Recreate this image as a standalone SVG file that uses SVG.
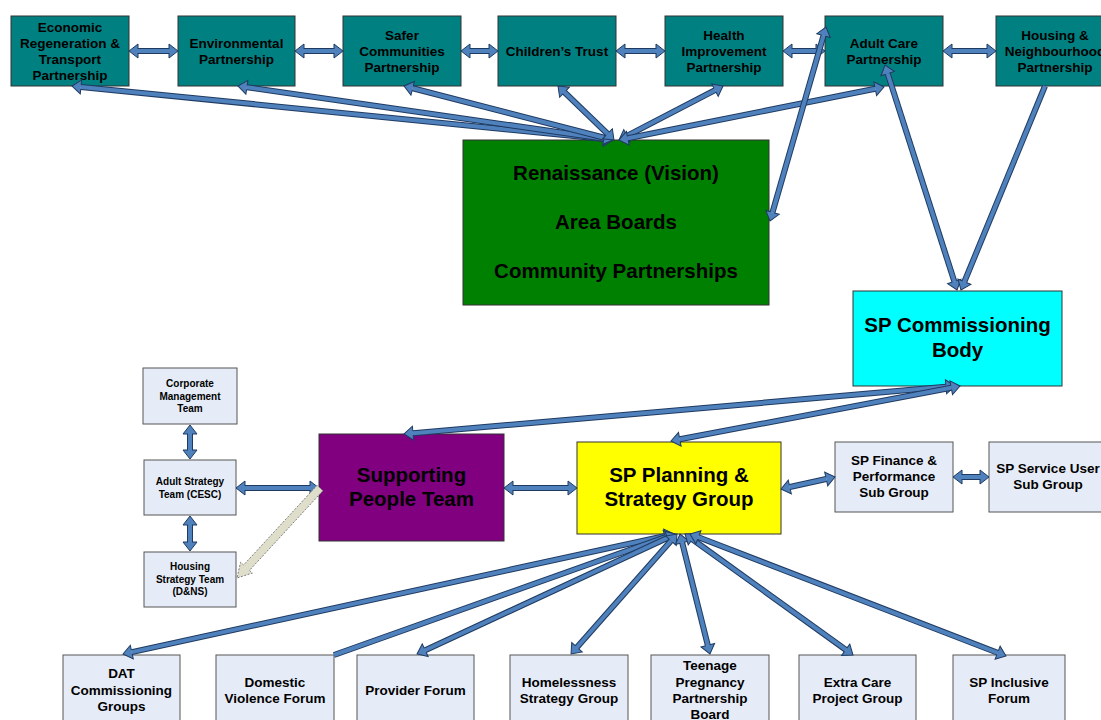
<svg xmlns="http://www.w3.org/2000/svg" width="1101" height="720" viewBox="0 0 1101 720">
<style>
.t{font-family:"Liberation Sans",Arial,sans-serif;font-weight:bold;fill:#000;text-anchor:middle}
.s{font-size:13.5px}
.xs{font-size:10px}
.l{font-size:20.5px}
.box{stroke:#333;stroke-width:1}
.teal{fill:#008080}
.lt{fill:#E6ECF7;stroke:#555;stroke-width:1}
.u{stroke:#1F3A60;stroke-width:6;fill:none}
.o{stroke:#4F81BD;stroke-width:4;fill:none}
.d{marker-start:url(#ah);marker-end:url(#ah)}
.e{marker-end:url(#ah)}
</style>
<defs>
<marker id="ah" viewBox="-1 -8 11 16" refX="0" refY="0" markerWidth="11" markerHeight="16" markerUnits="userSpaceOnUse" orient="auto-start-reverse" overflow="visible">
<path d="M0,-7 L9,0 L0,7 Z" fill="#4F81BD"/>
<path d="M0,-2 L0,-7 L9,0 L0,7 L0,2" fill="none" stroke="#1F3A60" stroke-width="1"/>
</marker>
</defs>
<rect width="1101" height="720" fill="#fff"/>

<g id="n-economic"><rect class="box teal" x="11" y="16" width="118" height="70"/>
<text class="t s" x="70" y="31.7">Economic</text><text class="t s" x="70" y="47.7">Regeneration &amp;</text><text class="t s" x="70" y="63.7">Transport</text><text class="t s" x="70" y="79.7">Partnership</text></g>
<g id="n-environmental"><rect class="box teal" x="178" y="16" width="117" height="70"/>
<text class="t s" x="236.5" y="47.7">Environmental</text><text class="t s" x="236.5" y="63.7">Partnership</text></g>
<g id="n-safer"><rect class="box teal" x="343" y="16" width="118" height="70"/>
<text class="t s" x="402" y="39.7">Safer</text><text class="t s" x="402" y="55.7">Communities</text><text class="t s" x="402" y="71.7">Partnership</text></g>
<g id="n-children"><rect class="box teal" x="498" y="16" width="118" height="70"/>
<text class="t s" x="557" y="55.7">Children’s Trust</text></g>
<g id="n-health"><rect class="box teal" x="665" y="16" width="118" height="70"/>
<text class="t s" x="724" y="39.7">Health</text><text class="t s" x="724" y="55.7">Improvement</text><text class="t s" x="724" y="71.7">Partnership</text></g>
<g id="n-adultcare"><rect class="box teal" x="825" y="16" width="118" height="70"/>
<text class="t s" x="884" y="47.7">Adult Care</text><text class="t s" x="884" y="63.7">Partnership</text></g>
<g id="n-housing"><rect class="box teal" x="996" y="16" width="118" height="70"/>
<text class="t s" x="1055" y="39.7">Housing &amp;</text><text class="t s" x="1055" y="55.7">Neighbourhood</text><text class="t s" x="1055" y="71.7">Partnership</text></g>

<g id="n-renaissance"><rect class="box" fill="#008000" x="463" y="140" width="306" height="165"/>
<text class="t l" x="616" y="180">Renaissance (Vision)</text><text class="t l" x="616" y="229">Area Boards</text><text class="t l" x="616" y="278">Community Partnerships</text></g>

<g id="n-commissioning"><rect class="box" fill="#00FFFF" x="853" y="291" width="209" height="95"/>
<text class="t l" x="957.5" y="332">SP Commissioning</text><text class="t l" x="957.5" y="357">Body</text></g>

<g id="n-corporate"><rect class="lt" x="143" y="368" width="94" height="56"/>
<text class="t xs" x="190" y="387">Corporate</text><text class="t xs" x="190" y="399.5">Management</text><text class="t xs" x="190" y="412">Team</text></g>
<g id="n-adultstrategy"><rect class="lt" x="144" y="460" width="92" height="55"/>
<text class="t xs" x="190" y="485">Adult Strategy</text><text class="t xs" x="190" y="497.5">Team (CESC)</text></g>
<g id="n-housingstrategy"><rect class="lt" x="144" y="552" width="92" height="55"/>
<text class="t xs" x="190" y="570">Housing</text><text class="t xs" x="190" y="582.5">Strategy Team</text><text class="t xs" x="190" y="595">(D&amp;NS)</text></g>

<g id="n-supporting"><rect class="box" fill="#800080" x="319" y="434" width="185" height="107"/>
<text class="t l" x="411.5" y="482">Supporting</text><text class="t l" x="411.5" y="506">People Team</text></g>
<g id="n-planning"><rect class="box" fill="#FFFF00" x="577" y="442" width="204" height="92"/>
<text class="t l" x="679" y="482">SP Planning &amp;</text><text class="t l" x="679" y="506">Strategy Group</text></g>
<g id="n-finance"><rect class="lt" x="835" y="442" width="118" height="70"/>
<text class="t s" x="894" y="465">SP Finance &amp;</text><text class="t s" x="894" y="481">Performance</text><text class="t s" x="894" y="497">Sub Group</text></g>
<g id="n-serviceuser"><rect class="lt" x="989" y="442" width="118" height="70"/>
<text class="t s" x="1048" y="473">SP Service User</text><text class="t s" x="1048" y="489">Sub Group</text></g>

<g id="n-dat"><rect class="lt" x="63" y="655" width="117" height="70"/>
<text class="t s" x="121.5" y="678">DAT</text><text class="t s" x="121.5" y="694.5">Commissioning</text><text class="t s" x="121.5" y="711">Groups</text></g>
<g id="n-domestic"><rect class="lt" x="216" y="655" width="118" height="70"/>
<text class="t s" x="275" y="687">Domestic</text><text class="t s" x="275" y="703">Violence Forum</text></g>
<g id="n-provider"><rect class="lt" x="357" y="655" width="117" height="70"/>
<text class="t s" x="415.5" y="695">Provider Forum</text></g>
<g id="n-homelessness"><rect class="lt" x="510" y="655" width="118" height="70"/>
<text class="t s" x="569" y="687">Homelessness</text><text class="t s" x="569" y="703">Strategy Group</text></g>
<g id="n-teenage"><rect class="lt" x="651" y="655" width="118" height="70"/>
<text class="t s" x="710" y="670">Teenage</text><text class="t s" x="710" y="686.5">Pregnancy</text><text class="t s" x="710" y="703">Partnership</text><text class="t s" x="710" y="719">Board</text></g>
<g id="n-extracare"><rect class="lt" x="799" y="655" width="117" height="70"/>
<text class="t s" x="857.5" y="687">Extra Care</text><text class="t s" x="857.5" y="703">Project Group</text></g>
<g id="n-inclusive"><rect class="lt" x="953" y="655" width="112" height="70"/>
<text class="t s" x="1009" y="687">SP Inclusive</text><text class="t s" x="1009" y="703">Forum</text></g>

<g id="connectors">
<g><line class="u" x1="138" y1="51" x2="169" y2="51"/><line class="o d" x1="138" y1="51" x2="169" y2="51"/></g>
<g><line class="u" x1="304" y1="51" x2="334" y2="51"/><line class="o d" x1="304" y1="51" x2="334" y2="51"/></g>
<g><line class="u" x1="470" y1="51" x2="489" y2="51"/><line class="o d" x1="470" y1="51" x2="489" y2="51"/></g>
<g><line class="u" x1="625" y1="51" x2="656" y2="51"/><line class="o d" x1="625" y1="51" x2="656" y2="51"/></g>
<g><line class="u" x1="792" y1="51" x2="816" y2="51"/><line class="o d" x1="792" y1="51" x2="816" y2="51"/></g>
<g><line class="u" x1="952" y1="51" x2="987" y2="51"/><line class="o d" x1="952" y1="51" x2="987" y2="51"/></g>

<g><line class="u" x1="80.96" y1="86.89" x2="604.04" y2="139.11"/><line class="o d" x1="80.96" y1="86.89" x2="604.04" y2="139.11"/></g>
<g><line class="u" x1="246.9" y1="87.28" x2="604.1" y2="138.72"/><line class="o d" x1="246.9" y1="87.28" x2="604.1" y2="138.72"/></g>
<g><line class="u" x1="412.7" y1="88.25" x2="604.3" y2="137.75"/><line class="o d" x1="412.7" y1="88.25" x2="604.3" y2="137.75"/></g>
<g><line class="u" x1="564.5" y1="92.25" x2="607.5" y2="133.75"/><line class="o d" x1="564.5" y1="92.25" x2="607.5" y2="133.75"/></g>
<g><line class="u" x1="715" y1="90.15" x2="627" y2="135.85"/><line class="o d" x1="715" y1="90.15" x2="627" y2="135.85"/></g>
<g><line class="u" x1="875.2" y1="88.76" x2="627.8" y2="138.24"/><line class="o d" x1="875.2" y1="88.76" x2="627.8" y2="138.24"/></g>

<g><line class="u" x1="772.5" y1="212.35" x2="823.5" y2="35.65"/><line class="o d" x1="772.5" y1="212.35" x2="823.5" y2="35.65"/></g>
<g><line class="u" x1="887.7" y1="73.57" x2="954.3" y2="281.43"/><line class="o d" x1="887.7" y1="73.57" x2="954.3" y2="281.43"/></g>
<g><line class="u" x1="1045" y1="86" x2="964.4" y2="281.68"/><line class="o e" x1="1045" y1="86" x2="964.4" y2="281.68"/></g>

<g><line class="u" x1="946" y1="386.78" x2="413" y2="433.22"/><line class="o d" x1="946" y1="386.78" x2="413" y2="433.22"/></g>
<g><line class="u" x1="951.2" y1="387.68" x2="679.8" y2="439.32"/><line class="o d" x1="951.2" y1="387.68" x2="679.8" y2="439.32"/></g>

<g><line class="u" x1="245" y1="488" x2="310" y2="488"/><line class="o d" x1="245" y1="488" x2="310" y2="488"/></g>
<g><line class="u" x1="513" y1="488" x2="568" y2="488"/><line class="o d" x1="513" y1="488" x2="568" y2="488"/></g>
<g><line class="u" x1="190" y1="434" x2="190" y2="450"/><line class="o d" x1="190" y1="434" x2="190" y2="450"/></g>
<g><line class="u" x1="190" y1="525" x2="190" y2="542"/><line class="o d" x1="190" y1="525" x2="190" y2="542"/></g>
<g><line class="u" x1="789.8" y1="487.05" x2="826.2" y2="478.95"/><line class="o d" x1="789.8" y1="487.05" x2="826.2" y2="478.95"/></g>
<g><line class="u" x1="962" y1="477" x2="980" y2="477"/><line class="o d" x1="962" y1="477" x2="980" y2="477"/></g>

<polygon points="322.9,490.7 249.4,570.4 252.4,573.1 237,578 240.6,562.3 243.6,565 317.1,485.3" fill="#DEDECB" stroke="#7F7F7F" stroke-width="1" stroke-dasharray="2,1.5"/>

<g><line class="u" x1="131.8" y1="652.08" x2="665.2" y2="535.92"/><line class="o d" x1="131.8" y1="652.08" x2="665.2" y2="535.92"/></g>
<g><line class="u" x1="334" y1="655" x2="665.5" y2="537.02"/><line class="o e" x1="334" y1="655" x2="665.5" y2="537.02"/></g>
<g><line class="u" x1="425.2" y1="650.2" x2="667.8" y2="537.8"/><line class="o d" x1="425.2" y1="650.2" x2="667.8" y2="537.8"/></g>
<g><line class="u" x1="577" y1="647.25" x2="671" y2="540.75"/><line class="o d" x1="577" y1="647.25" x2="671" y2="540.75"/></g>
<g><line class="u" x1="707.8" y1="645.27" x2="682.2" y2="542.73"/><line class="o d" x1="707.8" y1="645.27" x2="682.2" y2="542.73"/></g>
<g><line class="u" x1="845.7" y1="649.74" x2="692.3" y2="539.26"/><line class="o d" x1="845.7" y1="649.74" x2="692.3" y2="539.26"/></g>
<g><line class="u" x1="997.6" y1="652.76" x2="698.4" y2="537.24"/><line class="o d" x1="997.6" y1="652.76" x2="698.4" y2="537.24"/></g>
</g>
</svg>
